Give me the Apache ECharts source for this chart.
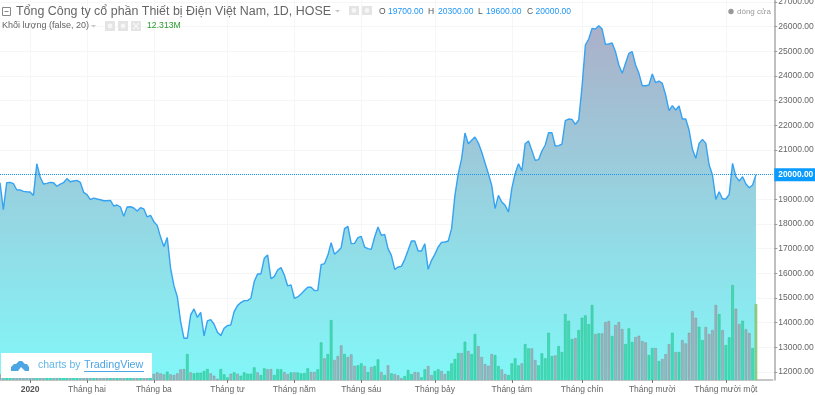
<!DOCTYPE html>
<html>
<head>
<meta charset="utf-8">
<style>html,body{margin:0;padding:0;background:#fff}#c{width:815px;height:395px}</style>
<script src="https://cdn.jsdelivr.net/npm/echarts@6/dist/echarts.min.js"></script>
</head>
<body>
<div id="c"></div>
<script>
const closePrices = [
19676,18580,19676,19690,19635,19390,19380,19325,19310,19300,19160,20445,19905,19620,19650,19690,19675,19530,19620,19675,
19840,19715,19745,19770,19690,19285,19190,18985,19050,19015,18985,18945,18945,18960,18730,18770,18690,18310,18690,18700,
18650,18525,18660,18610,18285,18350,18095,17945,17470,17083,17450,16205,15500,15055,14043,13368,13368,14314,14557,14219,
14422,13462,14070,14124,13935,13611,13476,13773,13881,13908,14450,14692,14814,14895,14895,14989,15665,15975,15975,16610,
16745,15786,15867,16137,16232,15935,15489,15530,14989,15043,15165,15300,15435,15435,15300,15311,16351,16392,16730,17243,
16770,16892,17041,17811,17905,17203,17216,17446,17500,17068,17000,16973,17473,17878,17540,17581,17000,16730,16162,16257,
16284,16568,16932,17311,17311,16905,16905,17203,16162,16527,16770,17068,17257,17270,17311,17811,19162,20040,20650,21689,
21257,21392,21527,21284,20919,20473,20040,19568,18622,19162,18892,18757,18486,19432,20040,20446,20149,21257,21365,20986,
20581,20608,20959,21203,21703,21703,21162,21176,21243,22189,22257,22243,22041,22216,23568,25257,25500,25932,25905,26040,
25905,25284,25297,25338,24986,24446,24108,24514,24919,24986,24446,24108,23608,23608,23635,24081,23730,23797,23703,23230,
22595,22797,22622,22784,22257,22257,21811,21027,20662,21270,21432,21270,20392,19986,19000,19311,19014,19014,19203,20459,
19919,19743,19919,19622,19473,19581,20000
];
const volumeMillions = [
0.9,0.7,1.1,0.8,1.2,0.6,0.9,0.7,1.0,1.3,0.8,1.1,0.6,0.9,1.2,0.7,0.8,1.0,0.6,0.9,
1.1,0.7,0.8,1.2,0.9,0.6,1.0,0.7,0.8,1.1,0.9,0.6,0.8,1.0,1.2,0.7,0.9,0.6,0.8,1.1,
0.7,1.0,0.8,0.6,0.9,1.2,1.0,1.24,1.08,0.92,1.35,0.92,0.81,1.08,1.73,1.78,4.21,1.24,1.08,1.19,
1.19,1.46,1.78,1.08,0.70,0.20,1.78,0.92,0.43,1.03,1.24,1.03,0.70,1.24,1.03,1.03,2.05,1.24,0.81,1.89,
1.73,1.78,0.81,1.78,1.73,1.30,0.97,1.24,1.24,1.24,1.08,1.13,1.89,1.30,1.30,1.73,6.10,3.51,4.21,9.72,
3.24,3.89,5.62,4.21,3.73,4.16,2.32,2.38,2.70,2.27,1.30,2.11,2.27,3.35,1.30,0.81,2.38,1.08,0.97,0.76,
0.32,0.65,1.62,0.97,1.30,1.24,0.43,1.73,2.27,0.81,1.46,1.73,1.46,0.97,1.46,2.70,3.40,4.37,4.37,6.21,
4.70,4.21,7.45,5.51,3.73,2.59,2.32,4.21,4.05,2.27,1.73,0.97,0.81,2.70,3.51,2.38,2.70,5.83,5.13,5.13,
3.24,2.38,4.32,3.51,7.67,3.89,4.00,5.51,4.54,10.69,9.61,6.64,6.80,8.10,10.10,10.48,9.07,12.15,7.45,7.56,
7.56,9.40,9.56,7.13,8.91,9.40,8.26,5.83,8.37,6.16,6.97,7.18,6.32,6.10,4.05,5.18,5.18,3.08,3.40,4.21,
5.83,7.67,4.54,4.54,6.48,5.94,7.67,11.18,10.10,8.64,6.48,8.59,7.45,8.10,12.15,10.69,8.10,5.67,6.91,15.39,
11.56,9.07,9.61,8.21,7.61,5.18,12.31
];
const volumeUp = [
0,0,1,1,0,0,0,0,0,0,0,1,0,0,1,1,0,0,1,1,
1,0,1,1,0,0,0,0,1,0,0,0,0,1,0,1,0,0,1,1,
0,0,1,0,0,1,0,0,0,0,1,0,0,0,0,0,1,0,1,1,
1,1,1,0,0,0,1,1,1,0,1,0,1,1,1,1,1,0,1,1,
0,0,1,1,1,0,0,1,0,1,1,1,1,0,0,1,1,0,1,1,
0,0,0,1,0,0,0,1,1,0,1,0,1,1,0,1,0,1,0,0,
0,1,1,1,0,0,1,1,0,0,1,1,0,0,1,1,1,1,0,1,
0,1,1,0,0,0,0,0,1,1,0,0,1,1,1,1,0,1,1,0,
0,1,1,1,1,1,0,1,1,1,1,1,0,1,1,1,1,1,0,1,
0,0,0,1,0,0,0,1,1,1,0,0,0,0,1,1,0,1,0,0,
0,1,0,1,0,0,0,0,0,1,1,0,0,0,0,1,0,1,1,1,
0,0,1,0,0,1,1
];
const monthLabels = ['2020','Tháng hai','Tháng ba','Tháng tư','Tháng năm','Tháng sáu','Tháng bảy','Tháng tám','Tháng chín','Tháng mười','Tháng mười một'];
const monthIndex = [9,26,46,68,88,108,130,153,174,195,217];
const priceTicks = [12000,13000,14000,15000,16000,17000,18000,19000,20000,21000,22000,23000,24000,25000,26000,27000];
const lastPrice = 20000;
const slotCount = 232;

const categories = [];
for (let i = 0; i < slotCount; i++) {
  const k = monthIndex.indexOf(i);
  categories.push(k >= 0 ? monthLabels[k] : '');
}
const FONT = 'Liberation Sans';
const isMonth = (i, v) => v !== '';
const txt = (x, y, text, fill, size, extra) => ({
  type: 'text', x, y, z: 20, silent: true,
  style: Object.assign({ text, fill, font: (size || 8.5) + 'px "' + FONT + '"', textVerticalAlign: 'middle' }, extra || {})
});
const box = (x, y, w, h) => ({ type: 'rect', z: 20, shape: { x, y, width: w, height: h }, style: { fill: '#e4e4e4' }, silent: true });
const dot = (x, y) => ({ type: 'circle', z: 21, shape: { cx: x, cy: y, r: 2.4 }, style: { fill: '#f6f6f6' }, silent: true });
const cross = (x, y) => ([
  { type: 'line', z: 21, shape: { x1: x - 3, y1: y - 3, x2: x + 3, y2: y + 3 }, style: { stroke: '#f6f6f6', lineWidth: 1.3 }, silent: true },
  { type: 'line', z: 21, shape: { x1: x - 3, y1: y + 3, x2: x + 3, y2: y - 3 }, style: { stroke: '#f6f6f6', lineWidth: 1.3 }, silent: true }
]);
const caret = (x, y) => ({ type: 'polygon', z: 20, shape: { points: [[x, y], [x + 5, y], [x + 2.5, y + 2.5]] }, style: { fill: '#c8c8c8' }, silent: true });
const BLUE = '#2196f3', INK = '#555';

const chart = echarts.init(document.getElementById('c'), null, { renderer: 'canvas' });
chart.setOption({
  animation: false,
  backgroundColor: '#fff',
  textStyle: { fontFamily: FONT },
  grid: { left: 0, right: 42.3, top: 0, bottom: 15, outerBoundsMode: 'none' },
  xAxis: {
    type: 'category', data: categories, boundaryGap: false,
    axisLine: { lineStyle: { color: '#b4b4b4', width: 1.5 } },
    axisTick: { alignWithLabel: true, interval: isMonth, length: 3, lineStyle: { color: '#777' } },
    splitLine: { show: true, interval: isMonth, lineStyle: { color: '#f5f6f7' } },
    axisLabel: {
      interval: isMonth, color: '#666', fontSize: 8.5, margin: 5, hideOverlap: false,
      formatter: v => v === '2020' ? '{y|2020}' : v,
      rich: { y: { fontWeight: 'bold', color: '#555', fontSize: 8.5 } }
    }
  },
  yAxis: [{
    type: 'value', position: 'right', min: 11676, max: 27082, offset: 1.6,
    axisLine: { show: true, lineStyle: { color: '#aaa', width: 1.5 } },
    axisTick: { show: true, length: 3, customValues: priceTicks, lineStyle: { color: '#999' } },
    splitLine: { show: true, lineStyle: { color: '#f5f6f7' } },
    axisLabel: { color: '#666', fontSize: 8.5, margin: 4, customValues: priceTicks, formatter: v => v.toFixed(2) }
  }, {
    type: 'value', show: false, min: 0, max: 61.6, splitLine: { show: false }
  }],
  series: [{
    type: 'line', data: closePrices, yAxisIndex: 0, showSymbol: false, symbol: 'none', z: 2,
    lineStyle: { color: '#35a2f2', width: 1.4 },
    areaStyle: {
      origin: 'start', opacity: 1,
      color: { type: 'linear', x: 0, y: 0, x2: 0, y2: 1, colorStops: [
        { offset: 0, color: '#abb0c9' }, { offset: 1, color: '#82f7f8' }
      ] }
    },
    markLine: {
      silent: true, symbol: 'none', animation: false,
      lineStyle: { color: '#1e90ee', type: 'dotted', width: 1 },
      data: [{ yAxis: lastPrice }],
      label: {
        position: 'end', formatter: () => lastPrice.toFixed(2), distance: 1.6,
        color: '#fff', fontWeight: 'bold', fontSize: 8.4, fontFamily: FONT,
        backgroundColor: '#0a9bff', padding: [2.5, 0, 2.5, 4], width: 37
      }
    }
  }, {
    type: 'bar', yAxisIndex: 1, barWidth: 2.7, z: 3,
    data: volumeMillions.map((v, i) => ({
      value: v,
      itemStyle: i === volumeMillions.length - 1
        ? { color: 'rgba(110,205,130,0.8)', borderColor: 'rgba(150,180,90,0.9)', borderWidth: 0.6 }
        : volumeUp[i]
          ? { color: 'rgba(39,210,156,0.7)', borderColor: 'rgba(40,190,140,0.8)', borderWidth: 0.6 }
          : { color: 'rgba(187,107,120,0.45)', borderColor: 'rgba(120,110,120,0.5)', borderWidth: 0.6 }
    }))
  }],
  graphic: { elements: [
    { type: 'rect', z: 20, shape: { x: 2.5, y: 7.5, width: 8, height: 8 }, style: { fill: '#fff', stroke: '#888', lineWidth: 1 }, silent: true },
    { type: 'line', z: 21, shape: { x1: 4.5, y1: 11.5, x2: 8.5, y2: 11.5 }, style: { stroke: '#888', lineWidth: 1 }, silent: true },
    txt(16, 11.5, 'Tổng Công ty cổ phần Thiết bị Điện Việt Nam, 1D, HOSE', '#666', 12.45),
    caret(335, 10), box(349, 6, 10, 9), dot(354, 10.5), box(362, 6, 10, 9), dot(367, 10.5),
    txt(379, 11.5, 'O', INK), txt(388, 11.5, '19700.00', BLUE),
    txt(428, 11.5, 'H', INK), txt(438, 11.5, '20300.00', BLUE),
    txt(478, 11.5, 'L', INK), txt(486, 11.5, '19600.00', BLUE),
    txt(527, 11.5, 'C', INK), txt(535.5, 11.5, '20000.00', BLUE),
    { type: 'circle', z: 20, shape: { cx: 731, cy: 11.5, r: 2.7 }, style: { fill: '#999' }, silent: true },
    txt(737, 11.5, 'dóng cửa', '#999', 8),
    txt(2, 26, 'Khối lượng (false, 20)', '#666', 9),
    caret(91, 25), box(105, 21, 10, 10), dot(110, 26), box(118, 21, 10, 10), dot(123, 26), box(131, 21, 10, 10), ...cross(136, 26),
    txt(147, 26, '12.313M', '#2e9a2e', 8.7),
    { type: 'rect', z: 30, shape: { x: 1, y: 353, width: 151, height: 25 }, style: { fill: '#fff' }, silent: true },
    { type: 'polygon', z: 31, silent: true,
      shape: { points: [[11,371],[11,367],[14,364],[16,364],[19,361],[22,361],[25,364],[27,364],[29,367],[29,371],[25,371],[21,367],[18,371]] },
      style: { fill: '#4ca6e4' } },
    { type: 'text', z: 31, x: 38, y: 365.5, silent: true, style: { text: 'charts by', fill: '#62b6e8', font: '10.5px "' + FONT + '"', textVerticalAlign: 'middle' } },
    { type: 'text', z: 31, x: 84, y: 365.5, silent: true, style: { text: 'TradingView', fill: '#4ca6e4', font: '10.8px "' + FONT + '"', textVerticalAlign: 'middle' } },
    { type: 'line', z: 31, shape: { x1: 84, y1: 371.5, x2: 144, y2: 371.5 }, style: { stroke: '#4ca6e4', lineWidth: 1 }, silent: true }
  ] }
});
</script>
</body>
</html>
